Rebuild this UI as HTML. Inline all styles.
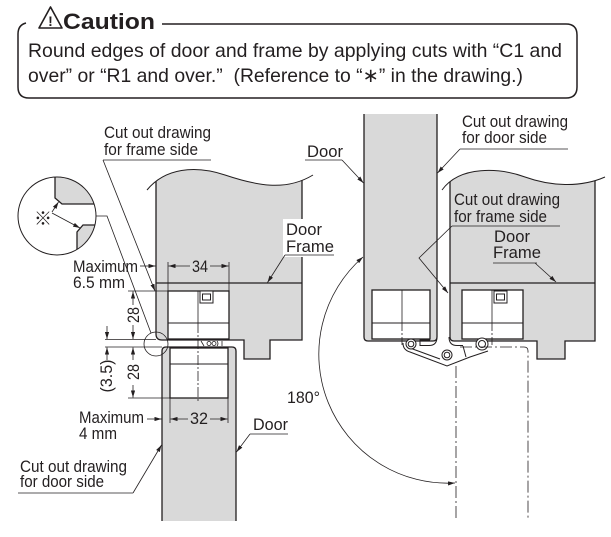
<!DOCTYPE html>
<html>
<head>
<meta charset="utf-8">
<style>
  html, body { margin: 0; padding: 0; background: #fff; }
  body { width: 611px; height: 537px; overflow: hidden; }
  svg { display: block; }
</style>
</head>
<body>
<svg width="611" height="537" viewBox="0 0 611 537" xmlns="http://www.w3.org/2000/svg" font-family="'Liberation Sans', Arial, sans-serif" fill="#231f20">
  <defs>
    <marker id="a" viewBox="0 0 10 6" refX="10" refY="3" markerWidth="7" markerHeight="4.2" markerUnits="userSpaceOnUse" orient="auto-start-reverse">
      <path d="M0,0 L10,3 L0,6 z" fill="#231f20"/>
    </marker>
    <clipPath id="w1"><path d="M147,190 C165,168 195,165 225,175 S285,192 313,175 L313,540 L140,540 Z"/></clipPath>
    <clipPath id="w2"><path d="M442,190 C460,165 500,168 525,177 S580,188 605,177 L605,540 L440,540 Z"/></clipPath>
    <clipPath id="c1"><circle cx="57" cy="216" r="39"/></clipPath>
  </defs>

  <!-- Caution header -->
  <polygon points="50.5,7 62,28 39,28" fill="none" stroke="#231f20" stroke-width="1.6" stroke-linejoin="round"/>
  <text x="50.5" y="26" font-size="14" font-weight="bold" text-anchor="middle">!</text>
  <text x="63" y="29" font-size="22.5" font-weight="bold" textLength="92" lengthAdjust="spacingAndGlyphs">Caution</text>
  <path d="M26,23 Q18,25 18,34 L18,87 Q18,98 29,98 L566,98 Q577,98 577,87 L577,35 Q577,24 566,24 L162,24" fill="none" stroke="#231f20" stroke-width="1.5"/>
  <text x="28" y="57" font-size="19.5" textLength="534" lengthAdjust="spacingAndGlyphs">Round edges of door and frame by applying cuts with “C1 and</text>
  <text x="28" y="82" font-size="19.5" textLength="495" lengthAdjust="spacingAndGlyphs" font-family="'Liberation Sans', 'DejaVu Sans', sans-serif">over” or “R1 and over.”&#160; (Reference to “∗” in the drawing.)</text>

  <!-- ============ LEFT DIAGRAM ============ -->
  <g clip-path="url(#w1)">
    <path d="M156,160 L156,334 Q156,340 162,340 L244,340 L244,359 L270,359 L270,340 L302,340 L302,160 Z" fill="#d9d9d9" stroke="#231f20" stroke-width="1.3"/>
  </g>
  <path d="M147,190 C165,168 195,165 225,175 S285,192 313,175" fill="none" stroke="#231f20" stroke-width="1"/>
  <line x1="156" y1="283" x2="302" y2="283" stroke="#231f20" stroke-width="1.2"/>

  <!-- frame cup -->
  <rect x="168" y="291" width="61" height="48" fill="#fff" stroke="#231f20" stroke-width="1.3"/>
  <line x1="168" y1="323" x2="229" y2="323" stroke="#231f20" stroke-width="1"/>
  <rect x="200" y="291" width="13" height="12" fill="#fff" stroke="#231f20" stroke-width="1"/>
  <rect x="202.5" y="294" width="8" height="6" fill="#fff" stroke="#231f20" stroke-width="1"/>

  <!-- door (left) -->
  <path d="M162,521 L162,351 Q162,347 166,347 L232,347 Q236,347 236,351 L236,521" fill="#d9d9d9" stroke="#231f20" stroke-width="1.3"/>
  <rect x="170" y="348" width="58" height="50" fill="#fff" stroke="#231f20" stroke-width="1.3"/>
  <line x1="170" y1="364" x2="228" y2="364" stroke="#231f20" stroke-width="1"/>

  <!-- center lines -->
  <line x1="198" y1="291" x2="198" y2="323" stroke="#231f20" stroke-width="0.8"/>
  <line x1="198" y1="323" x2="198" y2="402" stroke="#231f20" stroke-width="0.8" stroke-dasharray="10 2 2 2"/>

  <!-- hinge arm edge-on -->
  <g fill="none" stroke="#231f20" stroke-width="0.8">
    <path d="M201,341 L204,346"/>
    <circle cx="209" cy="343.5" r="2"/>
    <circle cx="214" cy="343.5" r="2"/>
    <path d="M217,341 Q219,343.5 217,346"/>
    <path d="M222,341 L222,346"/>
  </g>

  <!-- small detail circle -->
  <circle cx="156" cy="344" r="12" fill="none" stroke="#231f20" stroke-width="0.8"/>

  <!-- big detail circle -->
  <g clip-path="url(#c1)">
    <path d="M55,170 L55,198 L62,204 L100,204 L100,170 Z" fill="#d9d9d9"/>
    <path d="M100,225 L83,225 L77,232 L77,260 L100,260 Z" fill="#d9d9d9"/>
    <path d="M55,170 L55,198 L62,204 L100,204" fill="none" stroke="#231f20" stroke-width="1.3"/>
    <path d="M100,225 L83,225 L77,232 L77,260" fill="none" stroke="#231f20" stroke-width="1.3"/>
  </g>
  <circle cx="57" cy="216" r="39" fill="none" stroke="#231f20" stroke-width="1"/>
  <text x="43" y="225" font-size="18" text-anchor="middle" font-family="'Liberation Sans', 'Noto Sans CJK JP', sans-serif">※</text>

  <g fill="none" stroke="#231f20" stroke-width="0.8">
    <line x1="52" y1="212" x2="58.5" y2="202" marker-end="url(#a)"/>
    <line x1="52" y1="213" x2="80" y2="228" marker-end="url(#a)"/>
    <polyline points="96,216 107,216 151,333"/>

    <!-- extension lines -->
    <line x1="105" y1="339.5" x2="156" y2="339.5"/>
    <line x1="105" y1="347" x2="162" y2="347"/>
    <line x1="168" y1="262" x2="168" y2="291"/>
    <line x1="229" y1="262" x2="229" y2="291"/>
    <line x1="128" y1="291" x2="168" y2="291"/>
    <line x1="128" y1="398" x2="170" y2="398"/>
    <line x1="170" y1="398" x2="170" y2="423"/>
    <line x1="228" y1="398" x2="228" y2="423"/>

    <!-- 6.5 / 34 -->
    <line x1="140" y1="266" x2="155.5" y2="266" marker-end="url(#a)"/>
    <line x1="190" y1="266" x2="168.5" y2="266" marker-end="url(#a)"/>
    <line x1="210" y1="266" x2="228.5" y2="266" marker-end="url(#a)"/>

    <!-- 28 upper -->
    <line x1="133" y1="305" x2="133" y2="291.5" marker-end="url(#a)"/>
    <line x1="133" y1="325" x2="133" y2="339" marker-end="url(#a)"/>
    <!-- 3.5 -->
    <line x1="107" y1="326" x2="107" y2="339" marker-end="url(#a)"/>
    <line x1="107" y1="360" x2="107" y2="347.5" marker-end="url(#a)"/>
    <!-- 28 lower -->
    <line x1="133" y1="360" x2="133" y2="347.5" marker-end="url(#a)"/>
    <line x1="133" y1="385" x2="133" y2="397.5" marker-end="url(#a)"/>

    <!-- 4 / 32 -->
    <line x1="147" y1="419" x2="161.5" y2="419" marker-end="url(#a)"/>
    <line x1="188" y1="419" x2="170.5" y2="419" marker-end="url(#a)"/>
    <line x1="210" y1="419" x2="227.5" y2="419" marker-end="url(#a)"/>

    <!-- leaders / underlines -->
    <line x1="103" y1="160" x2="211" y2="160"/>
    <line x1="103" y1="160" x2="155" y2="291" marker-end="url(#a)"/>
    <line x1="250" y1="434" x2="288" y2="434"/>
    <line x1="250" y1="434" x2="236.5" y2="452" marker-end="url(#a)"/>
    <line x1="18" y1="493" x2="133" y2="493"/>
    <line x1="133" y1="493" x2="161.5" y2="445" marker-end="url(#a)"/>
  </g>

  <!-- Door Frame label (left) with knockout -->
  <rect x="283" y="219" width="20" height="38" fill="#fff"/>
  <line x1="285" y1="255" x2="334" y2="255" stroke="#231f20" stroke-width="0.8"/>
  <line x1="285" y1="255" x2="267.5" y2="282.5" stroke="#231f20" stroke-width="0.8" marker-end="url(#a)"/>

  <g font-size="16.5">
    <text x="104" y="138" textLength="107" lengthAdjust="spacingAndGlyphs">Cut out drawing</text>
    <text x="104" y="155" textLength="94" lengthAdjust="spacingAndGlyphs">for frame side</text>
    <text x="73" y="272" textLength="65" lengthAdjust="spacingAndGlyphs">Maximum</text>
    <text x="73" y="288" textLength="52" lengthAdjust="spacingAndGlyphs">6.5 mm</text>
    <text x="192" y="272" textLength="16" lengthAdjust="spacingAndGlyphs">34</text>
    <text x="286" y="235" textLength="36" lengthAdjust="spacingAndGlyphs">Door</text>
    <text x="286" y="252" textLength="48" lengthAdjust="spacingAndGlyphs">Frame</text>
    <text transform="translate(139,315) rotate(-90)" text-anchor="middle" textLength="16" lengthAdjust="spacingAndGlyphs">28</text>
    <text transform="translate(112,376) rotate(-90)" text-anchor="middle" textLength="33" lengthAdjust="spacingAndGlyphs">(3.5)</text>
    <text transform="translate(139,372) rotate(-90)" text-anchor="middle" textLength="16" lengthAdjust="spacingAndGlyphs">28</text>
    <text x="79" y="423" textLength="65" lengthAdjust="spacingAndGlyphs">Maximum</text>
    <text x="79" y="439" textLength="38" lengthAdjust="spacingAndGlyphs">4 mm</text>
    <text x="190" y="424" textLength="18" lengthAdjust="spacingAndGlyphs">32</text>
    <text x="253" y="430" textLength="35" lengthAdjust="spacingAndGlyphs">Door</text>
    <text x="20" y="472" textLength="107" lengthAdjust="spacingAndGlyphs">Cut out drawing</text>
    <text x="20" y="487" textLength="84" lengthAdjust="spacingAndGlyphs">for door side</text>
    <text x="287" y="403" textLength="33" lengthAdjust="spacingAndGlyphs">180°</text>
  </g>

  <!-- ============ RIGHT DIAGRAM ============ -->
  <!-- door -->
  <path d="M364,114 L364,337 Q364,341 368,341 L433,341 Q437,341 437,337 L437,114" fill="#d9d9d9" stroke="#231f20" stroke-width="1.3"/>
  <rect x="372" y="290" width="58" height="49" fill="#fff" stroke="#231f20" stroke-width="1.3"/>
  <line x1="372" y1="323" x2="430" y2="323" stroke="#231f20" stroke-width="1"/>
  <line x1="402" y1="290" x2="402" y2="323" stroke="#231f20" stroke-width="0.8"/>
  <line x1="402" y1="323" x2="402" y2="346" stroke="#231f20" stroke-width="0.8" stroke-dasharray="8 2 2 2"/>

  <!-- frame -->
  <g clip-path="url(#w2)">
    <path d="M450,160 L450,337 Q450,341 454,341 L537,341 L537,359 L565,359 L565,341 L595,341 L595,160 Z" fill="#d9d9d9" stroke="#231f20" stroke-width="1.3"/>
  </g>
  <path d="M442,190 C460,165 500,168 525,177 S580,188 605,177" fill="none" stroke="#231f20" stroke-width="1"/>
  <line x1="450" y1="283" x2="595" y2="283" stroke="#231f20" stroke-width="1.2"/>
  <rect x="462" y="290" width="61" height="49" fill="#fff" stroke="#231f20" stroke-width="1.3"/>
  <line x1="462" y1="323" x2="523" y2="323" stroke="#231f20" stroke-width="1"/>
  <rect x="494" y="291" width="13" height="12" fill="#fff" stroke="#231f20" stroke-width="1"/>
  <rect x="496.5" y="294" width="8" height="6" fill="#fff" stroke="#231f20" stroke-width="1"/>
  <line x1="492" y1="290" x2="492" y2="323" stroke="#231f20" stroke-width="0.8"/>
  <line x1="492" y1="323" x2="492" y2="346" stroke="#231f20" stroke-width="0.8" stroke-dasharray="8 2 2 2"/>

  <!-- hinge arm -->
  <g fill="none" stroke="#231f20" stroke-width="1">
    <path d="M437,337 Q437,345.5 429,345.5 L420,345.5 L420,340 L430,340"/>
    <path d="M449,337 Q449,345.5 457,345.5 L463,345.5"/>
    <path d="M403,343 Q403,350 410,352 L447,366 L470,357 L488,351"/>
    <path d="M410,348 L440,359"/>
    <path d="M463,346 L466,357"/>
  </g>
  <g fill="#fff" stroke="#231f20" stroke-width="1">
    <circle cx="411" cy="344" r="5"/>
    <circle cx="411" cy="344" r="2.8"/>
    <circle cx="447" cy="355" r="5"/>
    <circle cx="447" cy="355" r="2.8"/>
    <circle cx="482" cy="344" r="6"/>
    <circle cx="482" cy="344" r="3.5"/>
  </g>

  <!-- dash-dot open door outline -->
  <g fill="none" stroke="#231f20" stroke-width="0.8" stroke-dasharray="12 3 2 3">
    <path d="M460,347 L524,347 Q528,347 528,351 L528,520"/>
    <line x1="456" y1="366" x2="456" y2="520"/>
  </g>

  <!-- 180 arc -->
  <path d="M363,257 A129,129 0 0 0 455,483" fill="none" stroke="#231f20" stroke-width="0.8" marker-start="url(#a)" marker-end="url(#a)"/>

  <!-- right leaders -->
  <g fill="none" stroke="#231f20" stroke-width="0.8">
    <line x1="305" y1="160" x2="342" y2="160"/>
    <line x1="342" y1="160" x2="363.5" y2="183" marker-end="url(#a)"/>
    <line x1="460" y1="149" x2="568" y2="149"/>
    <line x1="460" y1="149" x2="437.5" y2="173" marker-end="url(#a)"/>
    <line x1="452" y1="226" x2="560" y2="226"/>
    <polyline points="452,226 419,258 448,293" marker-end="url(#a)"/>
    <line x1="493" y1="263" x2="537" y2="263"/>
    <line x1="535" y1="263" x2="556" y2="282" marker-end="url(#a)"/>
  </g>

  <g font-size="16.5">
    <text x="307" y="157" textLength="36" lengthAdjust="spacingAndGlyphs">Door</text>
    <text x="462" y="127" textLength="106" lengthAdjust="spacingAndGlyphs">Cut out drawing</text>
    <text x="462" y="143" textLength="85" lengthAdjust="spacingAndGlyphs">for door side</text>
    <text x="454" y="205" textLength="106" lengthAdjust="spacingAndGlyphs">Cut out drawing</text>
    <text x="454" y="222" textLength="93" lengthAdjust="spacingAndGlyphs">for frame side</text>
    <text x="494" y="242" textLength="36" lengthAdjust="spacingAndGlyphs">Door</text>
    <text x="493" y="258" textLength="48" lengthAdjust="spacingAndGlyphs">Frame</text>
  </g>
</svg>
</body>
</html>
